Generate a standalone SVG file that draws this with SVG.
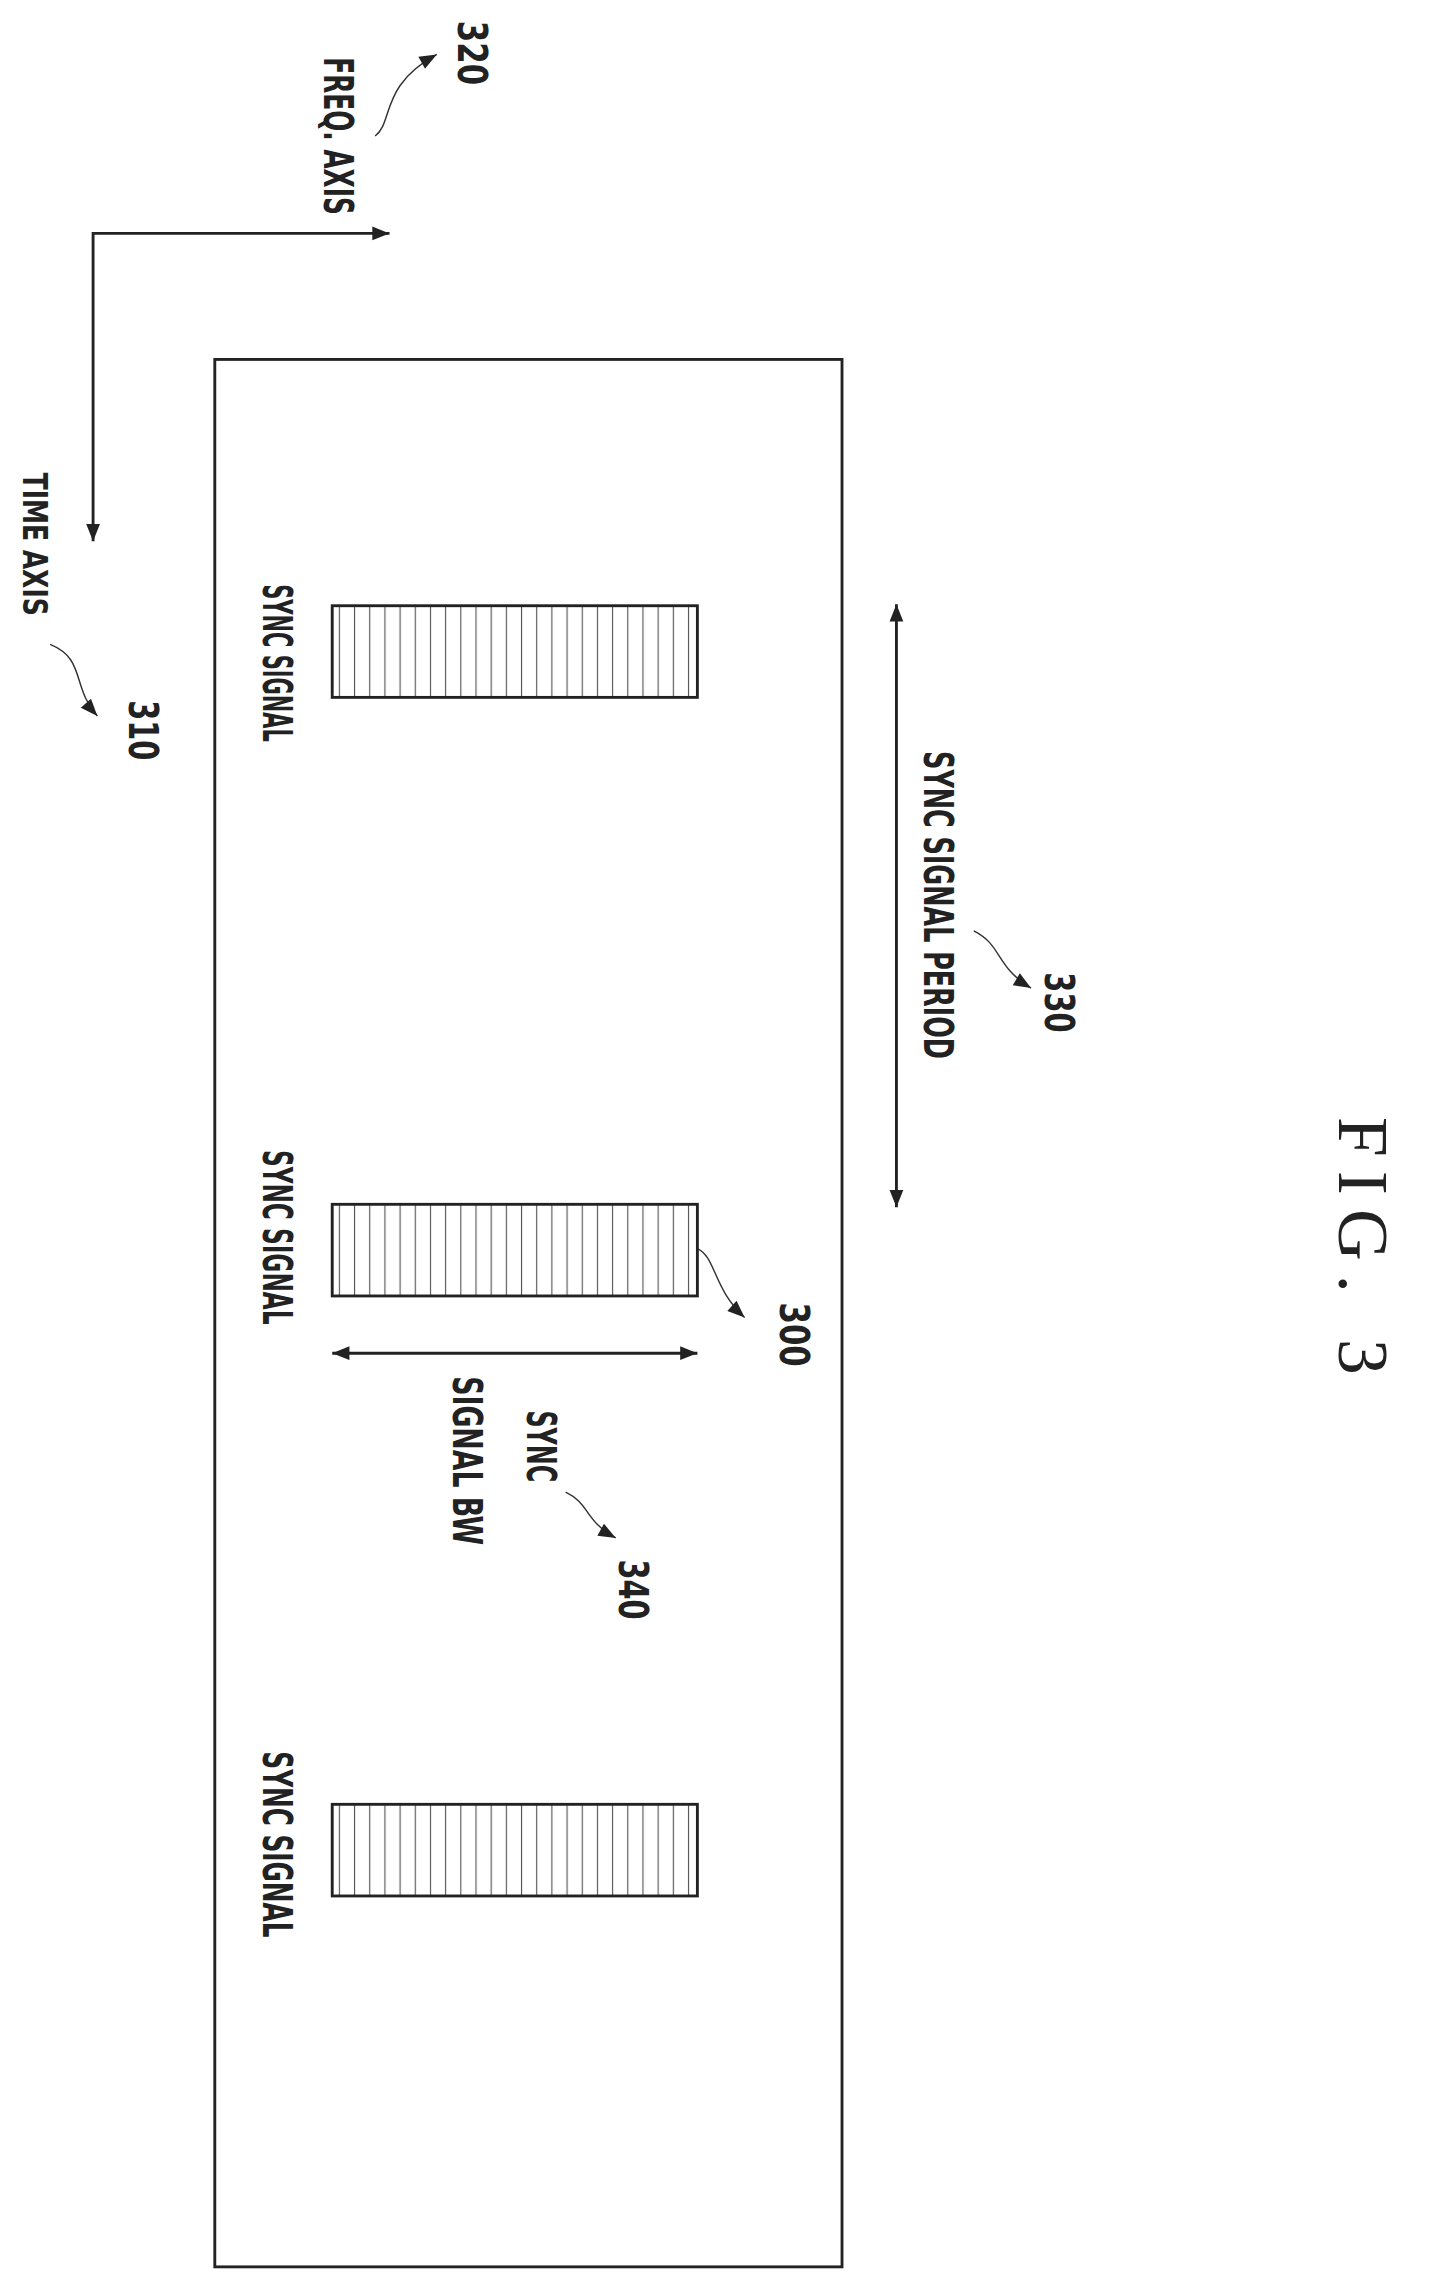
<svg xmlns="http://www.w3.org/2000/svg" width="1432" height="2279" viewBox="0 0 1432 2279">
<style>
.l{fill:none;stroke:#222;stroke-width:2}
.t{fill:none;stroke:#333;stroke-width:1}
.x{font-family:"DejaVu Sans Condensed","Liberation Sans",sans-serif;font-weight:bold;fill:#222;text-anchor:middle}
</style>
<defs>
<marker id="a" viewBox="0 0 10 10" refX="10" refY="5" markerWidth="14" markerHeight="12" orient="auto-start-reverse" markerUnits="userSpaceOnUse"><path d="M0,1 L10,5 L0,9 Z" fill="#222"/></marker>
<pattern id="h" width="10.6" height="20" patternUnits="userSpaceOnUse" x="232"><line x1="5" y1="0" x2="5" y2="20" stroke="#555" stroke-width="0.8"/></pattern>
</defs>
<g transform="scale(1.432)">
<g id="connectors">
<polyline class="l" points="272,163 65,163 65,378" marker-start="url(#a)" marker-end="url(#a)"/>
<line class="l" x1="626" y1="422" x2="626" y2="843" marker-start="url(#a)" marker-end="url(#a)"/>
<line class="l" x1="232" y1="945" x2="487" y2="945" marker-start="url(#a)" marker-end="url(#a)"/>
<path class="t" d="M262,95 C275,85 265,60 305,38" marker-end="url(#a)"/>
<path class="t" d="M35,450 C60,460 50,480 68,500" marker-end="url(#a)"/>
<path class="t" d="M680,650 C700,660 695,675 720,690" marker-end="url(#a)"/>
<path class="t" d="M487,872 C500,878 498,900 520,920" marker-end="url(#a)"/>
<path class="t" d="M395,1042 C412,1050 408,1062 430,1074" marker-end="url(#a)"/>
</g>
<g id="frame"><rect class="l" x="150" y="251" width="438" height="1332"/></g>
<g id="sync1"><rect x="232" y="423" width="255" height="64" fill="url(#h)" stroke="#222" stroke-width="2"/>
<text class="x" font-size="28" lengthAdjust="spacingAndGlyphs" textLength="110" transform="translate(184,463) rotate(90)">SYNC SIGNAL</text></g>
<g id="sync2"><rect x="232" y="841" width="255" height="64" fill="url(#h)" stroke="#222" stroke-width="2"/>
<text class="x" font-size="28" lengthAdjust="spacingAndGlyphs" textLength="122" transform="translate(184,864) rotate(90)">SYNC SIGNAL</text></g>
<g id="sync3"><rect x="232" y="1260" width="255" height="64" fill="url(#h)" stroke="#222" stroke-width="2"/>
<text class="x" font-size="28" lengthAdjust="spacingAndGlyphs" textLength="130" transform="translate(184,1288) rotate(90)">SYNC SIGNAL</text></g>
<g id="labels">
<text class="x" font-size="28" lengthAdjust="spacingAndGlyphs" textLength="110" transform="translate(226,95) rotate(90)">FREQ. AXIS</text>
<text class="x" font-size="28" lengthAdjust="spacingAndGlyphs" textLength="45" transform="translate(320,37) rotate(90)">320</text>
<text class="x" font-size="24" lengthAdjust="spacingAndGlyphs" textLength="100" transform="translate(16,380) rotate(90)">TIME AXIS</text>
<text class="x" font-size="28" lengthAdjust="spacingAndGlyphs" textLength="42" transform="translate(90,510) rotate(90)">310</text>
<text class="x" font-size="28" lengthAdjust="spacingAndGlyphs" textLength="215" transform="translate(645,632) rotate(90)">SYNC SIGNAL PERIOD</text>
<text class="x" font-size="28" lengthAdjust="spacingAndGlyphs" textLength="42" transform="translate(730,700) rotate(90)">330</text>
<text class="x" font-size="28" lengthAdjust="spacingAndGlyphs" textLength="45" transform="translate(545,932) rotate(90)">300</text>
<text class="x" font-size="28" lengthAdjust="spacingAndGlyphs" textLength="50" transform="translate(368,1010) rotate(90)">SYNC</text>
<text class="x" font-size="28" lengthAdjust="spacingAndGlyphs" textLength="118" transform="translate(316,1020) rotate(90)">SIGNAL BW</text>
<text class="x" font-size="28" lengthAdjust="spacingAndGlyphs" textLength="42" transform="translate(432,1110) rotate(90)">340</text>
<text font-family="Liberation Serif,serif" font-size="50" fill="#222" text-anchor="middle" textLength="180" transform="translate(935,870) rotate(90)">FIG. 3</text>
</g>
</g>
</svg>
